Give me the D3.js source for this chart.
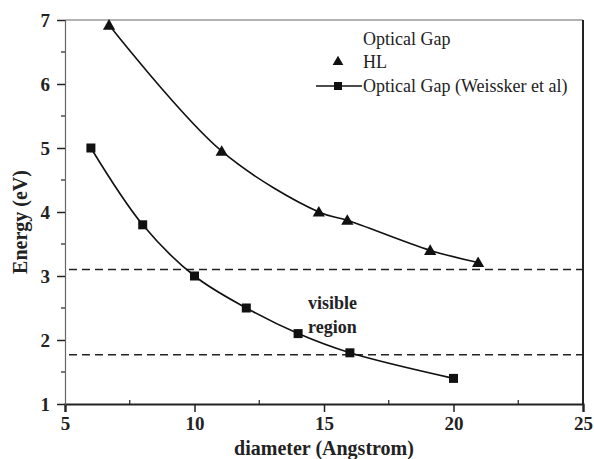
<!DOCTYPE html>
<html>
<head>
<meta charset="utf-8">
<script src="https://cdn.jsdelivr.net/npm/d3@7"></script>
<style>
  body { margin: 0; background: #fff; }
  svg { display: block; }
  text { font-family: "Liberation Serif", "DejaVu Serif", serif; fill: #222; }
</style>
</head>
<body>
<script>
// HL points (triangles)
var hlD = [6.7, 11.05, 14.8, 15.9, 19.1, 20.95];
var hlE = [6.92, 4.95, 4.0, 3.87, 3.4, 3.21];
// Optical gap (Weissker et al) points (squares)
var wD = [6, 8, 10, 12, 14, 16, 20];
var wE = [5.0, 3.8, 3.0, 2.5, 2.1, 1.8, 1.4];
// visible region limits
var visLimits = [3.1, 1.77];
var xTicks = [5, 10, 15, 20, 25];
var yTicks = [1, 2, 3, 4, 5, 6, 7];

var width = 594, height = 459;
var pLeft = 65, pRight = 583, pTop = 20, pBottom = 404;

var svg = d3.select("body").append("svg")
  .attr("width", width).attr("height", height);

var x = d3.scaleLinear().domain([5, 25]).range([pLeft, pRight]);
var y = d3.scaleLinear().domain([1, 7]).range([pBottom, pTop]);

// dashed lines for visible region
svg.selectAll(".vis").data(visLimits).enter().append("line")
  .attr("x1", pLeft + 4).attr("x2", pRight)
  .attr("y1", function(d) { return y(d); })
  .attr("y2", function(d) { return y(d); })
  .attr("stroke", "#222").attr("stroke-width", 1.5)
  .attr("stroke-dasharray", "8,5");

// frame: top + right
svg.append("line").attr("x1", pLeft).attr("x2", pRight).attr("y1", pTop).attr("y2", pTop)
  .attr("stroke", "#666").attr("stroke-width", 1.2);
svg.append("line").attr("x1", pRight).attr("x2", pRight).attr("y1", pTop).attr("y2", pBottom)
  .attr("stroke", "#222").attr("stroke-width", 2);

// x axis
var xAxis = svg.append("g").attr("transform", "translate(0," + pBottom + ")")
  .call(d3.axisBottom(x).tickValues(xTicks).tickSize(8).tickPadding(5).tickFormat(d3.format("d")));
xAxis.select(".domain").attr("stroke", "#222").attr("stroke-width", 2.2);
xAxis.selectAll(".tick line").attr("stroke", "#222").attr("stroke-width", 1.5);
xAxis.selectAll("text").attr("font-size", 19).attr("font-weight", "bold")
  .attr("font-family", "Liberation Serif").attr("fill", "#222");
// x minor ticks (inward)
svg.append("g").selectAll("line").data([7.5, 12.5, 17.5, 22.5]).enter().append("line")
  .attr("x1", function(d) { return x(d); }).attr("x2", function(d) { return x(d); })
  .attr("y1", pBottom).attr("y2", pBottom - 4)
  .attr("stroke", "#222").attr("stroke-width", 1.2);

// y axis
var yAxis = svg.append("g").attr("transform", "translate(" + pLeft + ",0)")
  .call(d3.axisLeft(y).tickValues(yTicks).tickSize(8).tickPadding(7).tickFormat(d3.format("d")));
yAxis.select(".domain").attr("stroke", "#666").attr("stroke-width", 1.2);
yAxis.selectAll(".tick line").attr("stroke", "#222").attr("stroke-width", 1.5);
yAxis.selectAll("text").attr("font-size", 19).attr("font-weight", "bold")
  .attr("font-family", "Liberation Serif").attr("fill", "#222");
// y minor ticks
svg.append("g").selectAll("line").data([1.5, 2.5, 3.5, 4.5, 5.5, 6.5]).enter().append("line")
  .attr("x1", pLeft).attr("x2", pLeft - 4)
  .attr("y1", function(d) { return y(d); }).attr("y2", function(d) { return y(d); })
  .attr("stroke", "#222").attr("stroke-width", 1.2);

// axis titles
svg.append("text").attr("x", (pLeft + pRight) / 2).attr("y", 455)
  .attr("text-anchor", "middle").attr("font-size", 20).attr("font-weight", "bold")
  .text("diameter (Angstrom)");
svg.append("text").attr("transform", "translate(27," + ((pTop + pBottom) / 2 + 10) + ") rotate(-90)")
  .attr("text-anchor", "middle").attr("font-size", 20).attr("font-weight", "bold")
  .text("Energy (eV)");

// curves
var line = d3.line()
  .x(function(d) { return x(d[0]); })
  .y(function(d) { return y(d[1]); })
  .curve(d3.curveCatmullRom.alpha(0.5));

var hl = hlD.map(function(d, i) { return [d, hlE[i]]; });
var ws = wD.map(function(d, i) { return [d, wE[i]]; });

svg.append("path").datum(hl).attr("d", line)
  .attr("fill", "none").attr("stroke", "#111").attr("stroke-width", 1.6);
svg.append("path").datum(ws).attr("d", line)
  .attr("fill", "none").attr("stroke", "#111").attr("stroke-width", 1.6);

var tri = d3.symbol().type(d3.symbolTriangle).size(65);
svg.selectAll(".tri").data(hl).enter().append("path")
  .attr("d", tri)
  .attr("transform", function(d) { return "translate(" + x(d[0]) + "," + (y(d[1]) + 1) + ")"; })
  .attr("fill", "#111");

svg.selectAll(".sq").data(ws).enter().append("rect")
  .attr("x", function(d) { return x(d[0]) - 4.5; })
  .attr("y", function(d) { return y(d[1]) - 4.5; })
  .attr("width", 9).attr("height", 9)
  .attr("fill", "#111");

// visible region label
svg.append("text").attr("x", 308).attr("y", 309)
  .attr("font-size", 18).attr("font-weight", "bold").text("visible");
svg.append("text").attr("x", 308).attr("y", 333)
  .attr("font-size", 18).attr("font-weight", "bold").text("region");

// legend
var lx = 363;
svg.append("text").attr("x", lx).attr("y", 45).attr("font-size", 18).text("Optical Gap");
svg.append("path").attr("d", d3.symbol().type(d3.symbolTriangle).size(50))
  .attr("transform", "translate(338,62)").attr("fill", "#111");
svg.append("text").attr("x", lx).attr("y", 68).attr("font-size", 18).text("HL");
svg.append("line").attr("x1", 316).attr("x2", 362).attr("y1", 86).attr("y2", 86)
  .attr("stroke", "#111").attr("stroke-width", 1.6);
svg.append("rect").attr("x", 334).attr("y", 82).attr("width", 8).attr("height", 8).attr("fill", "#111");
svg.append("text").attr("x", lx).attr("y", 92).attr("font-size", 18).text("Optical Gap (Weissker et al)");
</script>
</body>
</html>
